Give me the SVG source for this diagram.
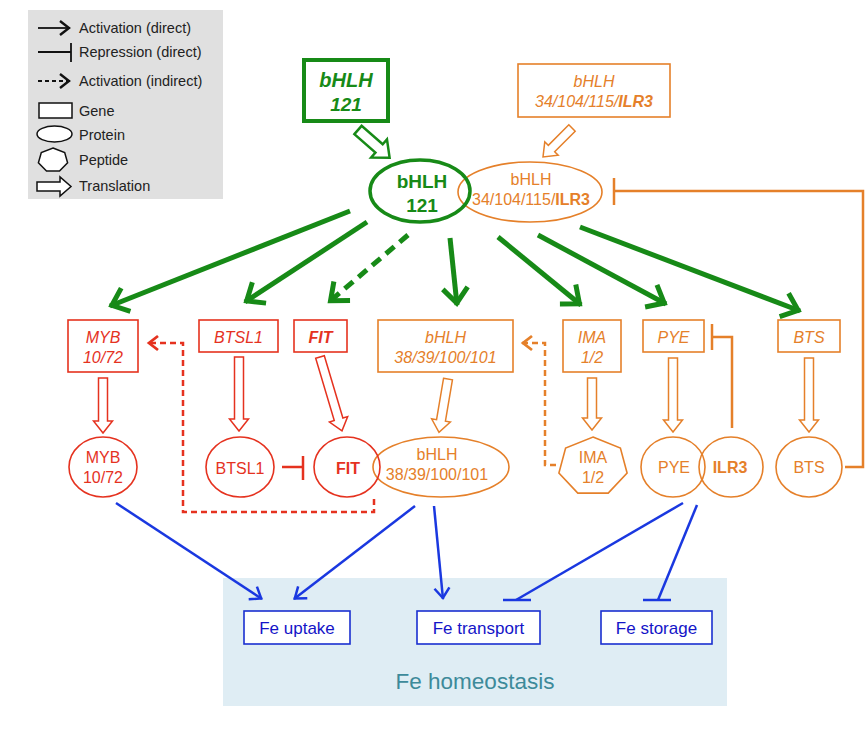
<svg xmlns="http://www.w3.org/2000/svg" width="867" height="742" viewBox="0 0 867 742">
<style>
text{font-family:"Liberation Sans",Arial,sans-serif}
.lg{font-size:14.5px;fill:#222}
.g{fill:#178a17}
.o{fill:#e5802a}
.r{fill:#e5321f}
.bl{fill:#1414c8}
.it{font-style:italic}
.b{font-weight:bold}
.box-o{fill:none;stroke:#e5802a;stroke-width:1.6}
.box-r{fill:none;stroke:#e5321f;stroke-width:1.6}
.box-b{fill:#fff;stroke:#1a2fd0;stroke-width:1.6}
.tr-o{fill:#fff;stroke:#e5802a;stroke-width:1.5}
.tr-r{fill:#fff;stroke:#e5321f;stroke-width:1.5}
.tr-g{fill:#fff;stroke:#178a17;stroke-width:2.5}
.ge{stroke:#178a17;stroke-width:5;fill:none}
.be{stroke:#1a38e0;stroke-width:2.5;fill:none}
.oe{stroke:#e5802a;stroke-width:2.5;fill:none}
.re{stroke:#e5321f;stroke-width:2.5;fill:none}
.ke{stroke:#111;stroke-width:1.8;fill:none}
</style>
<defs>
<marker id="mg" markerUnits="userSpaceOnUse" viewBox="-24 -18 30 36" markerWidth="30" markerHeight="36" refX="0" refY="0" orient="auto"><path d="M-17,-12.5 L-2,0 L-17,12.5" fill="none" stroke="#178a17" stroke-width="5"/></marker>
<marker id="mb" markerUnits="userSpaceOnUse" viewBox="-16 -12 20 24" markerWidth="20" markerHeight="24" refX="0" refY="0" orient="auto"><path d="M-11,-7.5 L-1,0 L-11,7.5" fill="none" stroke="#1a38e0" stroke-width="2.5"/></marker>
<marker id="mr" markerUnits="userSpaceOnUse" viewBox="-16 -12 20 24" markerWidth="20" markerHeight="24" refX="0" refY="0" orient="auto"><path d="M-10,-7 L-1,0 L-10,7" fill="none" stroke="#e5321f" stroke-width="2.8"/></marker>
<marker id="mo" markerUnits="userSpaceOnUse" viewBox="-16 -12 20 24" markerWidth="20" markerHeight="24" refX="0" refY="0" orient="auto"><path d="M-10,-7 L-1,0 L-10,7" fill="none" stroke="#e5802a" stroke-width="2.8"/></marker>
<marker id="mk" markerUnits="userSpaceOnUse" viewBox="-16 -12 20 24" markerWidth="20" markerHeight="24" refX="0" refY="0" orient="auto"><path d="M-10,-7 L-1,0 L-10,7" fill="none" stroke="#111" stroke-width="2.4"/></marker>
</defs>

<!-- Legend -->
<g id="legend">
<rect x="28" y="10" width="195" height="189" fill="#e0e0e0"/>
<line x1="38" y1="28" x2="70" y2="28" class="ke" marker-end="url(#mk)"/>
<text x="79" y="33" class="lg">Activation (direct)</text>
<line x1="38" y1="52" x2="71" y2="52" class="ke"/>
<line x1="71" y1="43" x2="71" y2="62" class="ke"/>
<text x="79" y="57" class="lg">Repression (direct)</text>
<line x1="38" y1="81" x2="70" y2="81" class="ke" stroke-dasharray="4 3" marker-end="url(#mk)"/>
<text x="79" y="86" class="lg">Activation (indirect)</text>
<rect x="39" y="103" width="33" height="15" fill="#fff" stroke="#111" stroke-width="1.5"/>
<text x="79" y="116" class="lg">Gene</text>
<ellipse cx="54.5" cy="134" rx="17.5" ry="8" fill="#fff" stroke="#111" stroke-width="1.5"/>
<text x="79" y="140" class="lg">Protein</text>
<polygon points="53,148 64.7,152.6 67.6,162.8 59.5,171 46.5,171 38.4,162.8 41.3,152.6" fill="#fff" stroke="#111" stroke-width="1.5"/>
<text x="79" y="165" class="lg">Peptide</text>
<path d="M37,182 H60 V177 L71,186.5 L60,196 V191 H37 Z" fill="#fff" stroke="#111" stroke-width="1.5"/>
<text x="79" y="191" class="lg">Translation</text>
</g>

<!-- Fe homeostasis background -->
<g id="fe-homeostasis">
<rect x="223" y="578" width="504" height="128" fill="#dfedf4"/>
<text x="475" y="689" text-anchor="middle" font-size="22.5" fill="#3d8a9a">Fe homeostasis</text>
</g>

<!-- Connectors -->
<g id="connectors">
<!-- translation arrows -->
<path d="M-5.5,0 H5.5 V28 H12 L0,42 L-12,28 H-5.5 Z" class="tr-g" transform="translate(358,130) rotate(-48.8)"/>
<path d="M-4.5,0 H4.5 V29 H9.5 L0,41 L-9.5,29 H-4.5 Z" class="tr-o" transform="translate(572,128) rotate(45)"/>
<path d="M-4.5,0 H4.5 V43 H9.5 L0,55 L-9.5,43 H-4.5 Z" class="tr-r" transform="translate(103,378)"/>
<path d="M-4.5,0 H4.5 V62 H9.5 L0,74 L-9.5,62 H-4.5 Z" class="tr-r" transform="translate(239,357)"/>
<path d="M-4.5,0 H4.5 V65 H9.5 L0,77 L-9.5,65 H-4.5 Z" class="tr-r" transform="translate(320,357) rotate(-16.6)"/>
<path d="M-4.5,0 H4.5 V42 H9.5 L0,54 L-9.5,42 H-4.5 Z" class="tr-o" transform="translate(448,379) rotate(9.6)"/>
<path d="M-4.5,0 H4.5 V40 H9.5 L0,52 L-9.5,40 H-4.5 Z" class="tr-o" transform="translate(592,378)"/>
<path d="M-4.5,0 H4.5 V62 H9.5 L0,74 L-9.5,62 H-4.5 Z" class="tr-o" transform="translate(673,358)"/>
<path d="M-4.5,0 H4.5 V62 H9.5 L0,74 L-9.5,62 H-4.5 Z" class="tr-o" transform="translate(809,358)"/>

<!-- green activations -->
<line x1="350" y1="211" x2="110" y2="306" class="ge" marker-end="url(#mg)"/>
<line x1="367" y1="222" x2="245" y2="302" class="ge" marker-end="url(#mg)"/>
<line x1="408" y1="235" x2="329" y2="302" class="ge" stroke-dasharray="11 7" marker-end="url(#mg)"/>
<line x1="450" y1="238" x2="457" y2="305" class="ge" marker-end="url(#mg)"/>
<line x1="498" y1="237" x2="581" y2="305" class="ge" marker-end="url(#mg)"/>
<line x1="538" y1="235" x2="666" y2="304" class="ge" marker-end="url(#mg)"/>
<line x1="580" y1="227" x2="800" y2="311" class="ge" marker-end="url(#mg)"/>

<!-- orange repression BTS -> bHLH34 -->
<path d="M845,467 H863 V191 H614" class="oe"/>
<line x1="614" y1="178" x2="614" y2="205" class="oe"/>
<!-- ILR3 -| PYE -->
<path d="M732,428 V337 H712" class="oe"/>
<line x1="712" y1="324" x2="712" y2="350" class="oe"/>
<!-- IMA indirect to bHLH38 -->
<path d="M556,465 H545 V343 H522" class="oe" stroke-dasharray="6 4" marker-end="url(#mo)"/>
<!-- FIT indirect to MYB -->
<path d="M374,499 V512 H183 V343 H148" class="re" stroke-dasharray="6 4" marker-end="url(#mr)"/>
<!-- BTSL1 -| FIT -->
<line x1="282" y1="467" x2="303" y2="467" class="re" stroke-width="3"/>
<line x1="303" y1="456" x2="303" y2="480" class="re" stroke-width="3"/>

<!-- blue -->
<line x1="116" y1="503" x2="262" y2="599" class="be" marker-end="url(#mb)"/>
<line x1="415" y1="506" x2="294" y2="599" class="be" marker-end="url(#mb)"/>
<line x1="434" y1="506" x2="443" y2="599" class="be" marker-end="url(#mb)"/>
<line x1="683" y1="503" x2="516" y2="600" class="be"/>
<line x1="503" y1="600" x2="531" y2="600" class="be"/>
<line x1="697" y1="505" x2="658" y2="600" class="be"/>
<line x1="643" y1="600" x2="671" y2="600" class="be"/>
</g>

<!-- Top genes -->
<g id="gene-bHLH121">
<rect x="304" y="60" width="84" height="61" fill="none" stroke="#178a17" stroke-width="4"/>
<text x="346" y="87" text-anchor="middle" font-size="20" class="g it b">bHLH</text>
<text x="346" y="111" text-anchor="middle" font-size="19" class="g it b">121</text>
</g>
<g id="gene-bHLH34">
<rect x="518" y="64" width="152" height="53" class="box-o"/>
<text x="594" y="87" text-anchor="middle" font-size="16" class="o it">bHLH</text>
<text x="594" y="107" text-anchor="middle" font-size="16" class="o it">34/104/115/<tspan class="b">ILR3</tspan></text>
</g>

<!-- Top proteins -->
<g id="protein-bHLH34">
<ellipse cx="530" cy="192" rx="72" ry="30" fill="none" stroke="#e5802a" stroke-width="1.6"/>
<text x="531" y="185" text-anchor="middle" font-size="16" class="o">bHLH</text>
<text x="531" y="205" text-anchor="middle" font-size="16" class="o">34/104/115/<tspan class="b">ILR3</tspan></text>
</g>
<g id="protein-bHLH121">
<ellipse cx="420" cy="191" rx="50" ry="31" fill="none" stroke="#178a17" stroke-width="3.5"/>
<text x="422" y="188" text-anchor="middle" font-size="19" class="g b">bHLH</text>
<text x="422" y="212" text-anchor="middle" font-size="19" class="g b">121</text>
</g>

<!-- Row 2 genes -->
<g id="gene-MYB">
<rect x="68" y="320" width="70" height="52" class="box-r"/>
<text x="103" y="343" text-anchor="middle" font-size="16" class="r it">MYB</text>
<text x="103" y="363" text-anchor="middle" font-size="16" class="r it">10/72</text>
</g>
<g id="gene-BTSL1">
<rect x="199" y="320" width="79" height="32" class="box-r"/>
<text x="238.5" y="343" text-anchor="middle" font-size="16" class="r it">BTSL1</text>
</g>
<g id="gene-FIT">
<rect x="294" y="320" width="53" height="32" class="box-r"/>
<text x="320.5" y="343" text-anchor="middle" font-size="16" class="r it b">FIT</text>
</g>
<g id="gene-bHLH38">
<rect x="378" y="320" width="135" height="52" class="box-o"/>
<text x="445.5" y="343" text-anchor="middle" font-size="16" class="o it">bHLH</text>
<text x="445.5" y="363" text-anchor="middle" font-size="16" class="o it">38/39/100/101</text>
</g>
<g id="gene-IMA">
<rect x="563" y="320" width="58" height="52" class="box-o"/>
<text x="592" y="343" text-anchor="middle" font-size="16" class="o it">IMA</text>
<text x="592" y="363" text-anchor="middle" font-size="16" class="o it">1/2</text>
</g>
<g id="gene-PYE">
<rect x="643" y="320" width="61" height="32" class="box-o"/>
<text x="673.5" y="343" text-anchor="middle" font-size="16" class="o it">PYE</text>
</g>
<g id="gene-BTS">
<rect x="778" y="320" width="62" height="32" class="box-o"/>
<text x="809" y="343" text-anchor="middle" font-size="16" class="o it">BTS</text>
</g>

<!-- Row 3 proteins -->
<g id="protein-MYB">
<ellipse cx="103" cy="467" rx="34" ry="30" fill="none" stroke="#e5321f" stroke-width="1.6"/>
<text x="103" y="463" text-anchor="middle" font-size="16" class="r">MYB</text>
<text x="103" y="483" text-anchor="middle" font-size="16" class="r">10/72</text>
</g>
<g id="protein-BTSL1">
<ellipse cx="240" cy="467" rx="34" ry="30" fill="none" stroke="#e5321f" stroke-width="1.6"/>
<text x="240" y="474" text-anchor="middle" font-size="16" class="r">BTSL1</text>
</g>
<g id="protein-bHLH38">
<ellipse cx="441" cy="467" rx="68" ry="30" fill="none" stroke="#e5802a" stroke-width="1.6"/>
<text x="437" y="460" text-anchor="middle" font-size="16" class="o">bHLH</text>
<text x="437" y="480" text-anchor="middle" font-size="16" class="o">38/39/100/101</text>
</g>
<g id="protein-FIT">
<ellipse cx="347" cy="467" rx="33" ry="30" fill="none" stroke="#e5321f" stroke-width="1.6"/>
<text x="348" y="474" text-anchor="middle" font-size="16" class="r b">FIT</text>
</g>
<g id="peptide-IMA">
<polygon points="593,437 620.4,448.1 627.1,473.1 608.2,493.1 577.8,493.1 558.9,473.1 565.6,448.1" fill="none" stroke="#e5802a" stroke-width="1.6"/>
<text x="593" y="463" text-anchor="middle" font-size="16" class="o">IMA</text>
<text x="593" y="483" text-anchor="middle" font-size="16" class="o">1/2</text>
</g>
<g id="protein-PYE">
<ellipse cx="673" cy="467" rx="32" ry="30" fill="none" stroke="#e5802a" stroke-width="1.6"/>
<text x="674" y="473" text-anchor="middle" font-size="16" class="o">PYE</text>
</g>
<g id="protein-ILR3">
<ellipse cx="731" cy="467" rx="32" ry="30" fill="none" stroke="#e5802a" stroke-width="1.6"/>
<text x="730" y="473" text-anchor="middle" font-size="16" class="o b">ILR3</text>
</g>
<g id="protein-BTS">
<ellipse cx="809" cy="467" rx="33" ry="30" fill="none" stroke="#e5802a" stroke-width="1.6"/>
<text x="809" y="473" text-anchor="middle" font-size="16" class="o">BTS</text>
</g>

<!-- Fe processes -->
<g id="fe-uptake">
<rect x="244" y="611" width="106" height="33" class="box-b"/>
<text x="297" y="634" text-anchor="middle" font-size="17" class="bl">Fe uptake</text>
</g>
<g id="fe-transport">
<rect x="417" y="611" width="123" height="33" class="box-b"/>
<text x="478.5" y="634" text-anchor="middle" font-size="17" class="bl">Fe transport</text>
</g>
<g id="fe-storage">
<rect x="601" y="611" width="111" height="33" class="box-b"/>
<text x="656.5" y="634" text-anchor="middle" font-size="17" class="bl">Fe storage</text>
</g>
</svg>
